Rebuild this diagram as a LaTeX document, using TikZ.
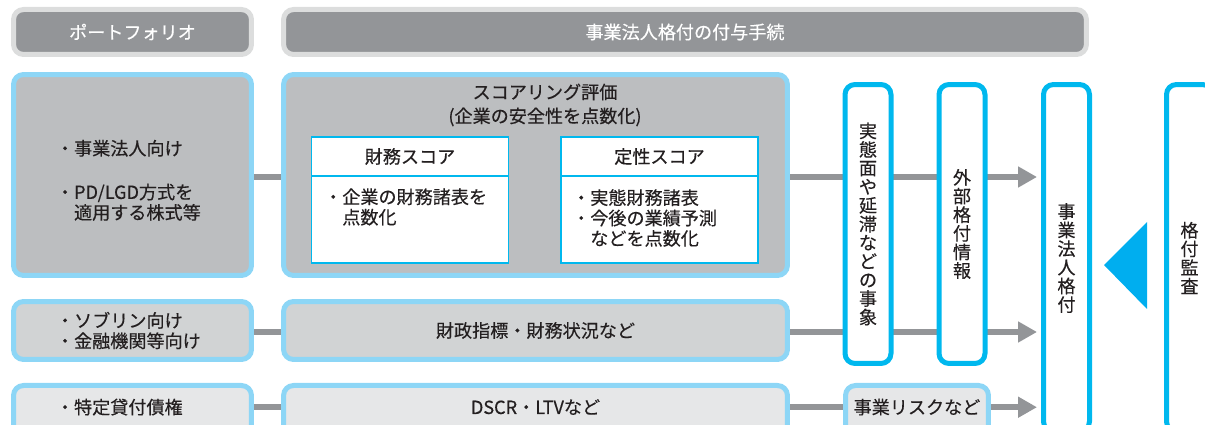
\documentclass[tikz,border=0pt]{standalone}
\usepackage{fontspec}
\setmainfont{Noto Sans CJK JP}[FakeBold=0.35]
\usepackage{tikz}
\usetikzlibrary{positioning,arrows.meta,backgrounds}

\definecolor{hdrgray}{HTML}{939598}
\definecolor{hdrrim}{HTML}{DCDDDD}
\definecolor{skyrim}{HTML}{8DD6F6}
\definecolor{cyanrim}{HTML}{00B8EE}
\definecolor{fillA}{HTML}{BCBEC0}
\definecolor{fillB}{HTML}{D1D3D4}
\definecolor{fillC}{HTML}{E6E7E8}
\definecolor{inkgray}{HTML}{231F20}
\definecolor{markblue}{HTML}{00AEEF}

\tikzset{
	hdr/.style={draw=hdrrim, fill=hdrgray, line width=0.1cm, rounded corners=0.2cm, text=white, minimum height=0.9cm, inner sep=0pt},
	pbox/.style={draw=skyrim, line width=0.1cm, rounded corners=0.2cm, inner sep=0pt},
	pleft/.style={pbox, text width=3.06cm, inner xsep=0.85cm, align=left},
	open/.style={anchor=north, text height=0.57cm, text depth=0.7cm, inner ysep=0pt},
	sbox/.style={draw=cyanrim, fill=white, line width=0.025cm, minimum width=3.94cm, outer sep=0pt, inner sep=0pt},
	vbox/.style={draw=cyanrim, fill=white, line width=0.1cm, rounded corners=0.2cm, minimum width=0.92cm, inner sep=0pt, align=center, font=\fontsize{10.3}{10.6}\selectfont},
	link/.style={draw=hdrgray, line width=0.12cm},
	flow/.style={link, -{Triangle[length=0.38cm,width=0.4cm]}, shorten >=0.08cm}
}

\begin{document}
\begin{tikzpicture}[x=0.02cm, y=-0.02cm, every node/.style={font=\fontsize{10.3}{11.6}\selectfont, text=inkgray}]
	
	\useasboundingbox (0,0) rectangle (1205,425);
	\clip (0,0) rectangle (1205,425);
	
	\node[hdr, minimum width=4.76cm] (hpf) at (132.5,32) {ポートフォリオ};
	\node[hdr, minimum width=16.06cm] (hproc) at (685,32) {事業法人格付の付与手続};
	
	\node[pleft, fill=fillA, minimum height=4.02cm] (pcorp) at (132.5,175) {\rule{0pt}{0.52cm}・事業法人向け\\[13.3pt]・PD/LGD方式を\\\hphantom{・}適用する株式等};
	\node[pbox, fill=fillA, minimum width=10.08cm, minimum height=4.02cm] (score) at (535.5,175) {};
	\node[align=center, font=\fontsize{10.3}{13.6}\selectfont] (stitle) at (545,105) {スコアリング評価\\(企業の安全性を点数化)};
	
	\node[sbox, minimum height=0.78cm] (fintitle) at (410,156.5) {財務スコア};
	\node[sbox, minimum height=1.74cm, below=0pt of fintitle] (finbody) {};
	\node[anchor=west, align=left] (fintext) at (318,207) {・企業の財務諸表を\\\hphantom{・}点数化};
	
	\node[sbox, minimum height=0.78cm] (qualtitle) at (659.5,156.5) {定性スコア};
	\node[sbox, minimum height=1.74cm, below=0pt of qualtitle] (qualbody) {};
	\node[anchor=west, align=left] (qualtext) at (566,218) {・実態財務諸表\\・今後の業績予測\\\hphantom{・}などを点数化};
	
	\node[pleft, fill=fillB, minimum height=1.16cm] (psov) at (132.5,330.5) {・ソブリン向け\\・金融機関等向け};
	\node[pbox, fill=fillB, minimum width=10.08cm, minimum height=1.16cm] (msov) at (535.5,330.5) {財政指標・財務状況など};
	
	\node[pleft, open, fill=fillC] (pspl) at (132.5,383) {・特定貸付債権};
	\node[pbox, open, fill=fillC, minimum width=10.08cm] (mspl) at (535.5,383) {DSCR・LTVなど};
	\node[pbox, open, fill=fillC, minimum width=2.86cm] (risk) at (917,383) {事業リスクなど};
	
	\node[vbox, minimum height=5.58cm] (event) at (868,224) {実\\態\\面\\や\\延\\滞\\な\\ど\\の\\事\\象};
	\node[vbox, minimum height=5.58cm] (ext) at (962,224) {外\\部\\格\\付\\情\\報};
	\node[vbox, minimum height=6.94cm] (rate) at (1066.5,258) {事\\業\\法\\人\\格\\付};
	\node[vbox, minimum height=6.94cm] (audit) at (1189.5,258) {格\\付\\監\\査};
	
	\fill[markblue] (1104,265) -- (1147,222) -- (1147,309) -- cycle;
	
	\begin{scope}[on background layer]
	\draw[link] ([yshift=-0.04cm]pcorp.east) -- ([yshift=-0.04cm]score.west);
	\draw[flow] ([yshift=-0.04cm]score.east) -- ([yshift=-0.04cm]score.east -| rate.west);
	\draw[link] ([yshift=-0.03cm]psov.east) -- ([yshift=-0.03cm]msov.west);
	\draw[flow] ([yshift=-0.03cm]msov.east) -- ([yshift=-0.03cm]msov.east -| rate.west);
	\draw[link] ([yshift=0.04cm]pspl.mid east) -- ([yshift=0.04cm]mspl.mid west);
	\draw[link] ([yshift=0.04cm]mspl.mid east) -- ([yshift=0.04cm]risk.mid west);
	\draw[flow] ([yshift=0.04cm]risk.mid east) -- ([yshift=0.04cm]risk.mid east -| rate.west);
	\end{scope}
	
\end{tikzpicture}
\end{document}
